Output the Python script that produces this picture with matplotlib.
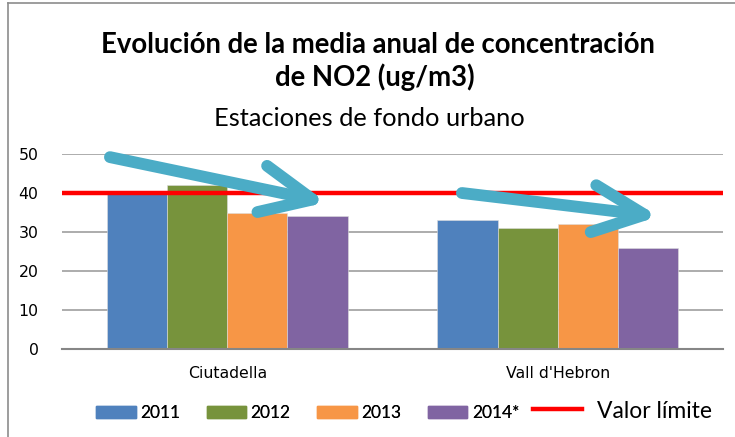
import matplotlib.pyplot as plt
import numpy as np
from matplotlib.lines import Line2D
from matplotlib.patches import Patch

# datos
estaciones = ['Ciutadella', "Vall d'Hebron"]
anios = ['2011', '2012', '2013', '2014*']
v2011 = [40, 33]
v2012 = [42, 31]
v2013 = [35, 32]
v2014 = [34, 26]
valor_limite = 40
colores = ['#4F81BD', '#77933C', '#F79646', '#8064A2']

# flechas de tendencia (inicio, fin) en unidades del grafico
flechas = [((-0.355, 49.2), (0.30, 37.6)),
           ((0.71, 40.0), (1.305, 34.0))]

plt.rcParams['font.family'] = ['Lato', 'DejaVu Sans']

fig = plt.figure(figsize=(7.35, 4.37), dpi=100)
ax = fig.add_axes([62/735, 1-349/437, 661/735, 195/437])

x = np.arange(len(estaciones))
w = 0.182
series = [v2011, v2012, v2013, v2014]
for i, vals in enumerate(series):
    ax.bar(x + (i-1.5)*w, vals, w, color=colores[i], edgecolor='#DDDDDD',
           linewidth=0.4, zorder=2, label=anios[i])

ax.axhline(valor_limite, color='#FF0000', lw=3.2, zorder=3)

for ini, fin in flechas:
    ax.annotate('', xy=fin, xytext=ini,
                arrowprops=dict(arrowstyle='->, head_length=1.85, head_width=0.85',
                                color='#4BACC6', lw=8.5, mutation_scale=20,
                                shrinkA=0, shrinkB=0, capstyle='round',
                                joinstyle='round'),
                zorder=5)

ax.set_xlim(-0.5, 1.5)
ax.set_ylim(0, 50)
ax.set_yticks(range(0, 51, 10))
ax.yaxis.grid(True, color='#A6A6A6', lw=1.3, zorder=0)
ax.set_axisbelow(True)
for s in ['left', 'right', 'top']:
    ax.spines[s].set_visible(False)
ax.spines['bottom'].set_color('#868686')
ax.spines['bottom'].set_linewidth(1.5)
ax.spines['bottom'].set_zorder(4)
ax.set_xticks(x)
ax.set_xticklabels(estaciones, fontsize=11.3, family='DejaVu Sans')
ax.tick_params(axis='x', length=0, pad=12)
ax.tick_params(axis='y', length=0, pad=17)
for t in ax.get_yticklabels():
    t.set_family('DejaVu Sans')
    t.set_fontsize(11.3)

fig.text(0.514, 1-45/437, 'Evolución de la media anual de concentración',
         ha='center', va='center', fontsize=19.8, fontweight='bold')
fig.text(0.51, 1-77/437, 'de NO2 (ug/m3)',
         ha='center', va='center', fontsize=19.8, fontweight='bold')
fig.text(0.503, 1-118/437, 'Estaciones de fondo urbano',
         ha='center', va='center', fontsize=18.3)

# leyenda de las series
handles = [Patch(color=c) for c in colores]
leg = fig.legend(handles, anios, ncol=4, loc='center left',
                 bbox_to_anchor=(96/735, 1-413/437), frameon=False,
                 borderpad=0, borderaxespad=0,
                 fontsize=12.4, handlelength=2.3, handleheight=0.64,
                 handletextpad=0.25, columnspacing=1.55)
fig.add_artist(leg)
# leyenda del valor limite
leg2 = fig.legend([Line2D([], [], color='#FF0000', lw=3.2)], ['Valor límite'],
                  loc='center left', bbox_to_anchor=(533/735, 1-411/437),
                  frameon=False, borderpad=0, borderaxespad=0,
                  fontsize=16.5, handlelength=2.15, handletextpad=0.65)

# borde exterior
fig.add_artist(Line2D([8/735, 8/735], [0, 1-3/437], color='#8C8C8C', lw=1.2))
fig.add_artist(Line2D([8/735, 1], [1-3/437, 1-3/437], color='#8C8C8C', lw=1.2))

fig.savefig('out.png', dpi=100)
